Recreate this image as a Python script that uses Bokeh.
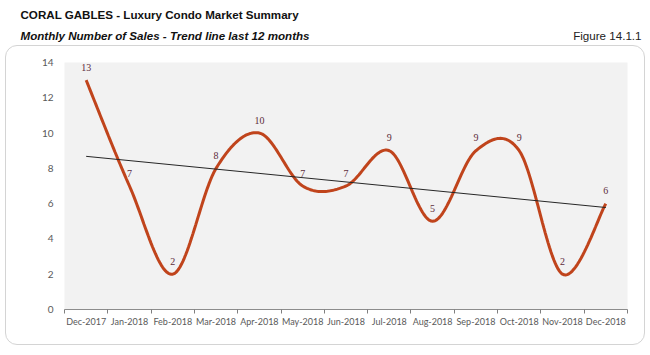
import numpy as np
from bokeh.plotting import figure
from bokeh.models import (ColumnDataSource, FixedTicker, LabelSet, Range1d)
from bokeh.core.properties import value
from bokeh.embed import file_html
from bokeh.resources import INLINE

# ---- data ----
months = ["Dec-2017", "Jan-2018", "Feb-2018", "Mar-2018", "Apr-2018", "May-2018",
          "Jun-2018", "Jul-2018", "Aug-2018", "Sep-2018", "Oct-2018", "Nov-2018",
          "Dec-2018"]
sales = [13, 7, 2, 8, 10, 7, 7, 9, 5, 9, 9, 2, 6]
y_ticks = [0, 2, 4, 6, 8, 10, 12, 14]

title_text = "CORAL GABLES - Luxury Condo Market Summary"
subtitle_text = "Monthly Number of Sales - Trend line last 12 months"
figure_text = "Figure 14.1.1"

# ---- header ----
HW, HH = 650, 45
hdr = figure(width=HW, height=HH, output_backend="svg", toolbar_location=None,
             x_range=Range1d(0, HW), y_range=Range1d(HH, 0),
             x_axis_location=None, y_axis_location=None,
             min_border_left=0, min_border_right=0, min_border_top=0,
             min_border_bottom=0, outline_line_color=None)
hdr.grid.visible = False
hdr.background_fill_color = "white"
hdr.border_fill_color = "white"
hdr.text(x=[20], y=[14], text=[title_text], text_font=value("Liberation Sans"),
         text_font_style="bold", text_font_size="11.6px", text_color="#111111",
         text_baseline="middle", text_align="left")
hdr.text(x=[20], y=[35], text=[subtitle_text], text_font=value("Liberation Sans"),
         text_font_style="bold italic", text_font_size="11.6px", text_color="#111111",
         text_baseline="middle", text_align="left")
hdr.text(x=[641], y=[35], text=[figure_text], text_font=value("Liberation Sans"),
         text_font_size="11.6px", text_color="#222222",
         text_baseline="middle", text_align="right")

# ---- derived series ----
n = len(months)
xs = np.arange(n) + 0.5
ys = np.array(sales, dtype=float)

# smoothed line (Excel-like bezier smoothing)
sx, sy = [], []
for i in range(n - 1):
    p0 = np.array([xs[max(i - 1, 0)], ys[max(i - 1, 0)]])
    p1 = np.array([xs[i], ys[i]])
    p2 = np.array([xs[i + 1], ys[i + 1]])
    p3 = np.array([xs[min(i + 2, n - 1)], ys[min(i + 2, n - 1)]])
    c1 = p1 + (p2 - p0) / 6.0
    c2 = p2 - (p3 - p1) / 6.0
    for t in np.linspace(0, 1, 30, endpoint=(i == n - 2)):
        pt = ((1 - t) ** 3) * p1 + 3 * ((1 - t) ** 2) * t * c1 + 3 * (1 - t) * t * t * c2 + t ** 3 * p2
        sx.append(pt[0]); sy.append(pt[1])

slope, intercept = np.polyfit(xs, ys, 1)
tx = np.array([xs[0], xs[-1]])
ty = slope * tx + intercept

# ---- main chart ----
W, H = 640, 300
p = figure(width=W, height=H, output_backend="svg", toolbar_location=None,
           x_range=Range1d(0, n), y_range=Range1d(0, 14))
p.min_border_left = 58
p.min_border_right = 19
p.min_border_top = 16
p.min_border_bottom = 37
p.background_fill_color = "#f2f2f2"
p.border_fill_color = None
p.outline_line_color = None
p.grid.visible = False
p.margin = (0, 0, 0, 5)
p.styles = {"border": "1px solid #d4d4d4", "border-radius": "12px"}

p.xaxis.ticker = FixedTicker(ticks=list(xs), minor_ticks=list(range(n + 1)))
p.xaxis.major_label_overrides = {float(x): m for x, m in zip(xs, months)}
p.xaxis.major_tick_line_color = None
p.xaxis.major_tick_out = 0
p.xaxis.major_tick_in = 0
p.xaxis.minor_tick_line_color = "#7f7f7f"
p.xaxis.minor_tick_out = 4
p.xaxis.minor_tick_in = 0
p.xaxis.axis_line_color = "#8c8c8c"
p.xaxis.major_label_text_font = "Lato"
p.xaxis.major_label_text_font_size = "9px"
p.xaxis.major_label_text_color = "#595959"
p.xaxis.major_label_standoff = 2

p.yaxis.ticker = FixedTicker(ticks=y_ticks)
p.yaxis.axis_line_color = None
p.yaxis.major_tick_line_color = None
p.yaxis.major_tick_out = 0
p.yaxis.minor_tick_line_color = None
p.yaxis.major_label_text_font = "Lato"
p.yaxis.major_label_text_font_size = "10px"
p.yaxis.major_label_text_color = "#595959"
p.yaxis.major_label_standoff = 11

p.line(sx, sy, line_color="#c0441c", line_width=3)
p.line(tx, ty, line_color="#262626", line_width=1)

src = ColumnDataSource(dict(x=xs, y=ys, t=[str(v) for v in sales]))
p.add_layout(LabelSet(x="x", y="y", text="t", source=src, y_offset=13,
                      text_align="center", text_baseline="middle",
                      text_font="Lato", text_font_size="10px",
                      text_color="#5e2c3a"))

open("out.html", "w").write(file_html([hdr, p], INLINE))
